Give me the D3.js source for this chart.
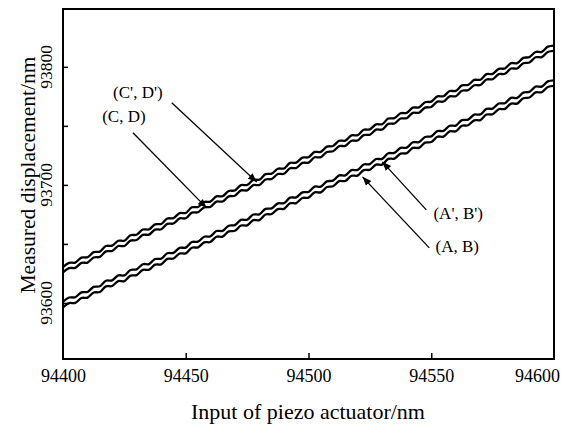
<!DOCTYPE html>
<html><head><meta charset="utf-8">
<script src="https://cdnjs.cloudflare.com/ajax/libs/d3/7.8.5/d3.min.js"></script>
<style>
html,body{margin:0;padding:0;background:#fff;}
svg text{font-family:"Liberation Serif","Times New Roman",serif;fill:#000;}
</style></head>
<body><svg id="chart" width="575" height="425"></svg>
<script>
// ---- data ----
const xStart = 94400, xStep = 2.5;
const xTicks = [94400, 94450, 94500, 94550, 94600];
const yTicksMajor = [93600, 93700, 93800];
const yTicksAll = [93600, 93650, 93700, 93750, 93800];
const xTitle = "Input of piezo actuator/nm";
const yTitle = "Measured displacement/nm";

// (A, B) - lower line of lower pair
const seriesAB = [
93596.2,93599.8,93600.0,93604.2,93604.5,93608.8,93609.3,93614.0,93614.3,93618.5,
93618.5,93623.1,93623.6,93628.0,93628.1,93632.4,93632.7,93637.3,93637.6,93641.9,
93642.0,93646.8,93647.1,93651.3,93651.6,93656.1,93656.2,93660.6,93661.1,93665.6,
93665.7,93670.1,93670.2,93674.9,93675.3,93679.5,93679.7,93684.4,93684.6,93688.9,
93689.2,93693.7,93693.7,93698.2,93698.8,93703.2,93703.3,93707.7,93707.9,93712.5,
93712.8,93717.1,93717.2,93722.0,93722.3,93726.5,93726.8,93731.3,93731.4,93735.8,
93736.3,93740.8,93740.9,93745.3,93745.4,93750.1,93750.5,93754.7,93754.9,93759.6,
93759.8,93764.1,93764.4,93768.9,93768.9,93773.4,93774.0,93778.4,93778.5,93782.9,
93783.8];
// (A', B') - upper line of lower pair
const seriesAB2 = [
93601.0,93604.6,93604.8,93609.0,93609.3,93613.6,93614.1,93618.8,93619.1,93623.3,
93623.3,93627.9,93628.4,93632.8,93632.9,93637.2,93637.5,93642.1,93642.4,93646.7,
93646.8,93651.6,93651.9,93656.1,93656.4,93660.9,93661.0,93665.4,93665.9,93670.4,
93670.5,93674.9,93675.0,93679.7,93680.1,93684.3,93684.5,93689.2,93689.4,93693.7,
93694.0,93698.5,93698.5,93703.0,93703.6,93708.0,93708.1,93712.5,93712.7,93717.3,
93717.6,93721.9,93722.0,93726.8,93727.1,93731.3,93731.6,93736.1,93736.2,93740.6,
93741.1,93745.6,93745.7,93750.1,93750.2,93754.9,93755.3,93759.5,93759.7,93764.4,
93764.6,93768.9,93769.2,93773.7,93773.7,93778.2,93778.8,93783.2,93783.3,93787.7,
93788.6];
// (C, D) - lower line of upper pair
const seriesCD = [
93625.9,93629.5,93629.7,93633.9,93634.2,93638.5,93639.0,93643.7,93644.0,93648.2,
93648.2,93652.8,93653.3,93657.7,93657.8,93662.1,93662.4,93667.0,93667.3,93671.6,
93671.7,93676.5,93676.8,93681.0,93681.3,93685.8,93685.9,93690.3,93690.8,93695.3,
93695.4,93699.8,93699.9,93704.6,93705.0,93709.2,93709.4,93714.1,93714.3,93718.6,
93718.9,93723.4,93723.4,93727.9,93728.5,93732.9,93733.0,93737.4,93737.6,93742.2,
93742.5,93746.8,93746.9,93751.7,93752.0,93756.2,93756.5,93761.0,93761.1,93765.5,
93766.0,93770.5,93770.6,93775.0,93775.1,93779.8,93780.2,93784.4,93784.6,93789.3,
93789.5,93793.8,93794.1,93798.6,93798.6,93803.1,93803.7,93808.1,93808.2,93812.6,
93813.5];
// (C', D') - upper line of upper pair
const seriesCD2 = [
93630.4,93634.0,93634.2,93638.4,93638.7,93643.0,93643.5,93648.2,93648.5,93652.7,
93652.7,93657.3,93657.8,93662.2,93662.3,93666.6,93666.9,93671.5,93671.8,93676.1,
93676.2,93681.0,93681.3,93685.5,93685.8,93690.3,93690.4,93694.8,93695.3,93699.8,
93699.9,93704.3,93704.4,93709.1,93709.5,93713.7,93713.9,93718.6,93718.8,93723.1,
93723.4,93727.9,93727.9,93732.4,93733.0,93737.4,93737.5,93741.9,93742.1,93746.7,
93747.0,93751.3,93751.4,93756.2,93756.5,93760.7,93761.0,93765.5,93765.6,93770.0,
93770.5,93775.0,93775.1,93779.5,93779.6,93784.3,93784.7,93788.9,93789.1,93793.8,
93794.0,93798.3,93798.6,93803.1,93803.1,93807.6,93808.2,93812.6,93812.7,93817.1,
93818.0];

// annotation labels: text, label anchor (data), arrow start (data), arrow tip (data)
const annLabels = ["(C', D')", "(C, D)", "(A', B')", "(A, B)"];
const annLabelPos = [[94430.5, 93773.7],[94424.8, 93753.4],[94561.0, 93671.2],[94560.6, 93643.2]];
const annFrom = [[94444.3, 93769.5],[94428.5, 93744.1],[94548.0, 93678.8],[94549.2, 93646.6]];
const annTo   = [[94478.9, 93702.5],[94458.5, 93680.5],[94530.1, 93719.5],[94522.0, 93706.8]];

// ---- chart ----
const svg = d3.select("#chart");
const L = 63, R = 554, T = 9, B = 359;
const x = d3.scaleLinear().domain([94400, 94600]).range([L, R]);
const y = d3.scaleLinear().domain([93552.5, 93849]).range([B, T]);

svg.append("defs").append("clipPath").attr("id","clip")
  .append("rect").attr("x",L).attr("y",T).attr("width",R-L).attr("height",B-T);
const mk = svg.select("defs").append("marker").attr("id","arrow")
  .attr("viewBox","0 0 10 10").attr("refX",10).attr("refY",5)
  .attr("markerWidth",9).attr("markerHeight",9).attr("markerUnits","userSpaceOnUse")
  .attr("orient","auto");
mk.append("path").attr("d","M0,1 L10,5 L0,9 Z").attr("fill","#000");

const line = d3.line()
  .x((d,i)=>x(xStart + i*xStep))
  .y(d=>y(d))
  .curve(d3.curveCatmullRom.alpha(0.5));

const g = svg.append("g").attr("clip-path","url(#clip)");
[seriesAB, seriesAB2, seriesCD, seriesCD2].forEach(s=>{
  g.append("path").attr("d", line(s)).attr("fill","none")
   .attr("stroke","#000").attr("stroke-width",2.3).attr("stroke-linejoin","round");
});

// axes
const xAxis = d3.axisBottom(x).tickValues(xTicks).tickFormat(d3.format("d"))
  .tickSizeInner(-6).tickSizeOuter(0).tickPadding(10);
const gx = svg.append("g").attr("transform",`translate(0,${B})`).call(xAxis);
gx.select(".domain").remove();
gx.selectAll("text").attr("font-size",18).attr("font-family","Liberation Serif");
gx.selectAll(".tick").filter(d=>d===94600).select("text").attr("dx",-17);
gx.selectAll(".tick").filter(d=>d===94400||d===94600).select("line").remove();
gx.selectAll("line").attr("stroke","#000").attr("stroke-width",1.5);

const yAxis = d3.axisLeft(y).tickValues(yTicksAll).tickFormat("")
  .tickSizeInner(-5).tickSizeOuter(0);
const gy = svg.append("g").attr("transform",`translate(${L},0)`).call(yAxis);
gy.select(".domain").remove();
gy.selectAll("line").attr("stroke","#000").attr("stroke-width",1.5);

svg.append("g").selectAll("text").data(yTicksMajor).join("text")
  .attr("transform", d=>`translate(52,${y(d)}) rotate(-90)`)
  .attr("text-anchor","middle").attr("font-size",17.5)
  .text(d=>d3.format("d")(d));

// frame
svg.append("rect").attr("x",L).attr("y",T).attr("width",R-L).attr("height",B-T)
  .attr("fill","none").attr("stroke","#000").attr("stroke-width",2);

// titles
svg.append("text").attr("x",308).attr("y",419).attr("text-anchor","middle")
  .attr("font-size",22).text(xTitle);
svg.append("text").attr("transform",`translate(35,175) rotate(-90)`)
  .attr("text-anchor","middle").attr("font-size",21.5).text(yTitle);

// annotations
annLabels.forEach((t,i)=>{
  svg.append("line")
    .attr("x1",x(annFrom[i][0])).attr("y1",y(annFrom[i][1]))
    .attr("x2",x(annTo[i][0])).attr("y2",y(annTo[i][1]))
    .attr("stroke","#000").attr("stroke-width",1.3).attr("marker-end","url(#arrow)");
  svg.append("text").attr("x",x(annLabelPos[i][0])).attr("y",y(annLabelPos[i][1]))
    .attr("text-anchor","middle").attr("font-size",17).text(t);
});
</script></body></html>
